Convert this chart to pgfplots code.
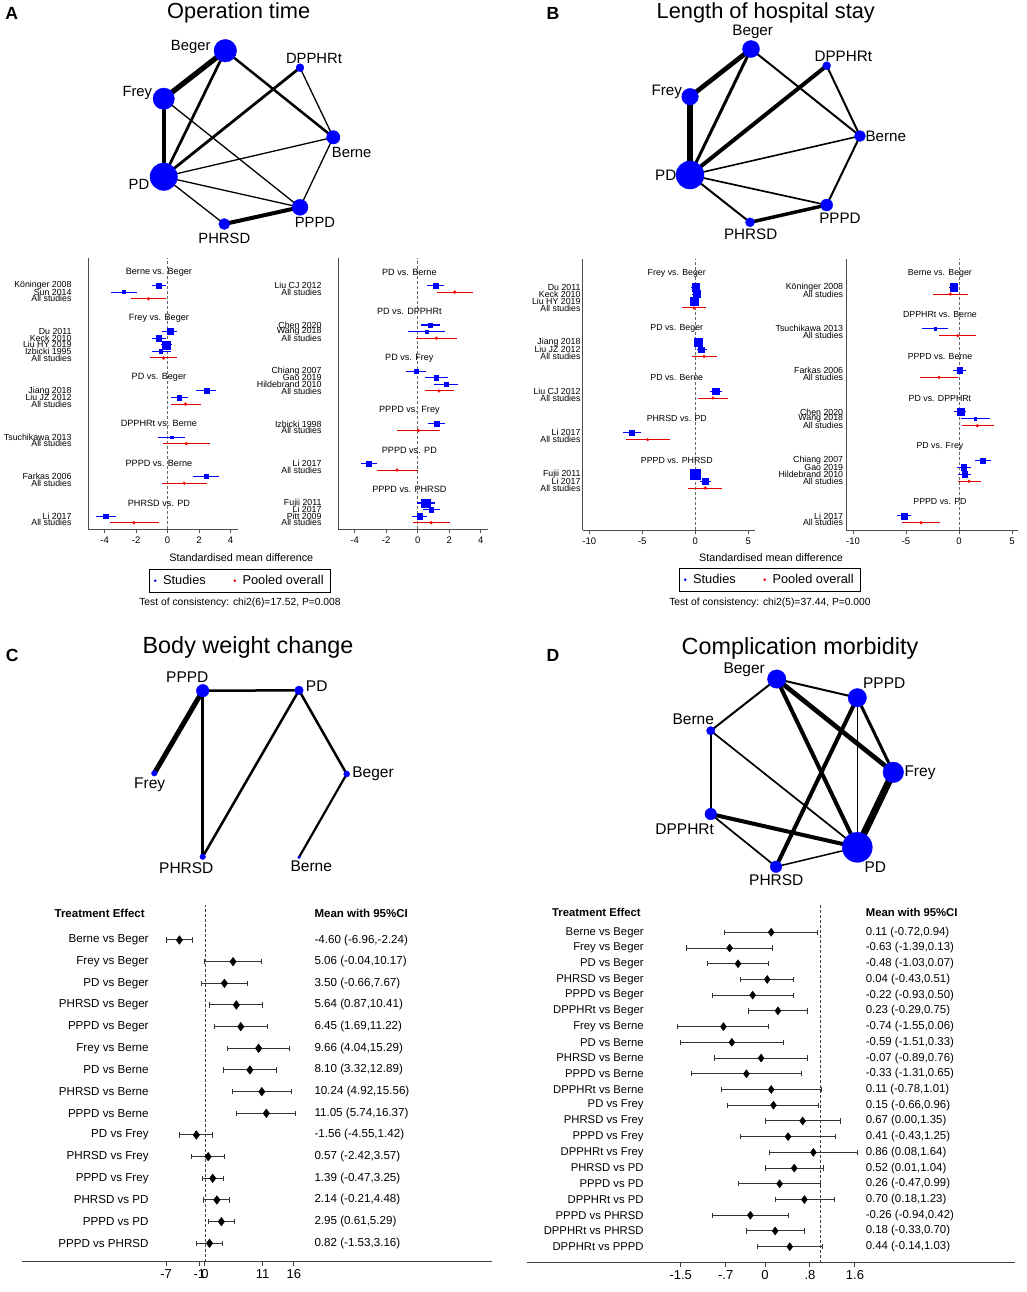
\documentclass[border=0pt]{standalone}
\usepackage{pgfplots}
\pgfplotsset{compat=1.18}
\usepackage{pgfplotstable}
\usepackage{fontspec}
\setmainfont{Liberation Sans}
\newcommand\fs[1]{\fontsize{#1}{#1}\selectfont}

\pgfplotsset{
  /pgf/number format/assume math mode=true,
  % Stata style forest plot (A, B)
  nma/.style={scale only axis, anchor=north west, clip=false, height=271pt,
    axis x line*=bottom, axis y line*=left,
    axis line style={black!70, line width=0.8pt},
    tick align=outside, major tick length=4pt,
    xtick style={black!70, line width=0.8pt}, ytick style={draw=none},
    xticklabel style={font=\fs{9.5}},
    yticklabel style={font=\fs{8.8}, anchor=east, inner sep=0pt}},
  % league forest plot (C, D)
  league/.style={scale only axis, anchor=north west, clip=false,
    axis x line*=bottom, axis y line*=left,
    axis line style={black!75, line width=1pt},
    y axis line style={draw=none},
    tick align=outside, major tick length=4.5pt,
    xtick style={black!75, line width=1pt}, ytick style={draw=none},
    xticklabel style={font=\fs{13}},
    yticklabel style={font=\fs{11.6}, anchor=east, inner sep=0pt}},
  studies/.style={scatter, only marks, mark=square*, forget plot,
    scatter/use mapped color={draw=blue, fill=blue},
    visualization depends on={\thisrow{w}\as\wsz},
    scatter/@pre marker code/.append style={/tikz/mark size=\wsz},
    error bars/x dir=both, error bars/x explicit, error bars/error mark=none,
    error bars/error bar style={blue, line width=1.1pt}},
  pooled/.style={only marks, mark=*, mark size=1.4pt, red, forget plot,
    error bars/x dir=both, error bars/x explicit, error bars/error mark=none,
    error bars/error bar style={red!90!black, line width=1pt}},
  diam/.style={only marks, mark=diamond*, mark size=4.3pt, black, forget plot,
    error bars/x dir=both, error bars/x explicit, error bars/error mark=|,
    error bars/error bar style={black!80, line width=1pt},
    error bars/error mark options={black!80, line width=1pt, mark size=2.6pt}},
  refline/.style={black!60, dash pattern=on 3pt off 2pt, line width=0.8pt, forget plot},
  netnode/.style={scatter, only marks, mark=*, forget plot,
    scatter/use mapped color={draw=blue, fill=blue},
    visualization depends on={\thisrow{r}\as\rad},
    scatter/@pre marker code/.append style={/tikz/mark size=\rad}},
  edge/.style={black, forget plot, line width=#1},
  mylegend/.style={legend columns=2,
    legend style={anchor=north, draw=black, line width=0.7pt, font=\fs{12.8},
      inner xsep=5pt, inner ysep=4pt,
      /tikz/every odd column/.append style={column sep=5pt},
      /tikz/every even column/.append style={column sep=26pt}},
    legend image code/.code={\draw[mark repeat=1,mark phase=1,##1] plot coordinates {(0pt,0pt)};}},
}

% ---------- network nodes (pixel positions, radius) ----------
\pgfplotstableread{
x y r
225.3 50.7 11.3
300 67.7 4
163.7 98.7 10.7
333.3 137.3 6.7
163.7 176.7 13.7
300 207.3 8
224.3 224 5.5
}\netA
\pgfplotstableread{
x y r
751 49 8.5
826.7 65.7 4
690 96.7 8.3
860 136 5.5
690 175 14
826.7 205 6
750 222.3 4.5
}\netB
\pgfplotstableread{
x y r
202.7 690.7 6.3
299 690.3 4.3
154.3 773.3 2.8
346.7 774 3
202.7 856.7 2.8
299 857.3 1.3
}\netC
\pgfplotstableread{
x y r
776.7 679 9.2
857.3 697.7 9.2
710.7 730.7 4.2
893.3 772.3 10.3
710.7 814 5.8
857.3 847.3 15
776 866.7 5.8
}\netD

% ---------- panel A forest ----------
\pgfplotstableread{
r x lo hi w
2 -0.57 -1.02 -0.13 2.7
3 -2.77 -3.58 -1.97 1.6
9 0.15 -0.34 0.63 3.0
10 -0.57 -1.02 -0.13 2.7
11 -0.06 -0.40 0.28 4.0
12 -0.42 -1.02 0.21 1.7
18 2.48 1.84 3.11 2.3
19 0.74 0.21 1.27 2.3
25 0.28 -0.61 1.14 1.3
31 2.43 1.59 3.26 2.0
37 -3.92 -4.55 -3.26 2.3
}\ALs
\pgfplotstableread{
r x lo hi
4 -1.21 -2.35 -0.11
13 -0.25 -1.10 0.63
20 1.14 0.21 2.12
26 1.19 -0.28 2.69
32 1.06 -0.34 2.52
38 -2.14 -3.66 -0.55
}\ALp
\pgfplotstableread{
r x lo hi w
2 1.14 0.59 1.69 2.3
8 0.78 0.19 1.40 2.2
9 0.57 -0.61 1.74 1.2
15 -0.11 -0.74 0.53 2.0
16 1.19 0.44 1.93 2.2
17 1.80 1.06 2.56 2.2
23 1.21 0.63 1.76 2.7
29 -3.13 -3.60 -2.60 2.5
35 0.51 -0.06 1.10 4.2
36 0.85 0.32 1.40 2.3
37 0.11 -0.36 0.57 2.6
}\ARs
\pgfplotstableread{
r x lo hi
3 2.35 1.23 3.49
10 1.19 -0.13 2.52
18 1.35 0.44 2.29
24 0.04 -1.29 1.42
30 -1.31 -2.60 0.00
38 0.85 -0.32 2.05
}\ARp

% ---------- panel B forest ----------
\pgfplotstableread{
r x lo hi w
2 0.00 -0.40 0.44 3.6
3 0.13 -0.30 0.55 3.6
4 -0.10 -0.50 0.30 4.3
10 0.31 -0.10 0.75 4.0
11 0.57 0.13 1.07 2.7
17 1.95 1.38 2.55 3.3
23 -6.00 -6.79 -5.16 2.1
29 0.03 -0.35 0.41 5.0
30 0.94 0.44 1.48 3.0
}\BLs
\pgfplotstableread{
r x lo hi
5 -0.13 -1.26 1.00
12 0.82 -0.31 2.04
18 1.67 0.28 3.08
24 -4.50 -6.54 -2.42
31 0.94 -0.66 2.55
}\BLp
\pgfplotstableread{
r x lo hi w
2 -0.50 -0.94 -0.06 3.6
8 -2.23 -3.46 -1.07 1.2
14 0.06 -0.53 0.66 2.7
20 0.13 -0.47 0.69 3.3
21 1.54 0.22 2.89 1.3
27 2.23 1.48 3.02 2.5
28 0.44 -0.19 1.10 2.7
29 0.53 -0.09 1.16 2.7
35 -5.13 -5.82 -4.50 3.0
}\BRs
\pgfplotstableread{
r x lo hi
3 -0.82 -2.42 0.82
9 -0.13 -1.86 1.64
15 -1.89 -3.68 -0.06
22 1.73 0.25 3.30
30 0.94 -0.13 2.08
36 -3.58 -5.35 -1.83
}\BRp

% ---------- panel C, D league tables ----------
\pgfplotstableread{
r x lo hi
0 -4.60 -6.96 -2.24
1 5.06 -0.04 10.17
2 3.50 -0.66 7.67
3 5.64 0.87 10.41
4 6.45 1.69 11.22
5 9.66 4.04 15.29
6 8.10 3.32 12.89
7 10.24 4.92 15.56
8 11.05 5.74 16.37
9 -1.56 -4.55 1.42
10 0.57 -2.42 3.57
11 1.39 -0.47 3.25
12 2.14 -0.21 4.48
13 2.95 0.61 5.29
14 0.82 -1.53 3.16
}\Cdat
\pgfplotstableread{
r x lo hi
0 0.11 -0.72 0.94
1 -0.63 -1.39 0.13
2 -0.48 -1.03 0.07
3 0.04 -0.43 0.51
4 -0.22 -0.93 0.50
5 0.23 -0.29 0.75
6 -0.74 -1.55 0.06
7 -0.59 -1.51 0.33
8 -0.07 -0.89 0.76
9 -0.33 -1.31 0.65
10 0.11 -0.78 1.01
11 0.15 -0.66 0.96
12 0.67 0.00 1.35
13 0.41 -0.43 1.25
14 0.86 0.08 1.64
15 0.52 0.01 1.04
16 0.26 -0.47 0.99
17 0.70 0.18 1.23
18 -0.26 -0.94 0.42
19 0.18 -0.33 0.70
20 0.44 -0.14 1.03
}\Ddat

\begin{document}
\begin{tikzpicture}
\useasboundingbox (0pt,0pt) rectangle (1026pt,-1292pt);

% ===== page layer: networks, titles, captions =====
\begin{axis}[at={(0pt,0pt)}, anchor=north west, scale only axis,
  width=1026pt, height=1292pt, xmin=0, xmax=1026, ymin=0, ymax=1292,
  y dir=reverse, hide axis, clip=false]
% A network
\addplot[edge=5.3pt] coordinates {(225.3,50.7) (163.7,98.7)};
\addplot[edge=4pt] coordinates {(163.7,98.7) (163.7,176.7)};
\addplot[edge=2.7pt] coordinates {(225.3,50.7) (163.7,176.7)};
\addplot[edge=2.5pt] coordinates {(225.3,50.7) (333.3,137.3)};
\addplot[edge=2.8pt] coordinates {(300,67.7) (163.7,176.7)};
\addplot[edge=1.3pt] coordinates {(300,67.7) (333.3,137.3)};
\addplot[edge=1.3pt] coordinates {(163.7,98.7) (300,207.3)};
\addplot[edge=1.3pt] coordinates {(163.7,176.7) (333.3,137.3)};
\addplot[edge=1.3pt] coordinates {(163.7,176.7) (300,207.3)};
\addplot[edge=1.3pt] coordinates {(163.7,176.7) (224.3,224)};
\addplot[edge=4pt] coordinates {(224.3,224) (300,207.3)};
\addplot[edge=1.3pt] coordinates {(333.3,137.3) (300,207.3)};
\addplot[netnode] table[x=x, y=y] \netA;
% B network
\addplot[edge=4.7pt] coordinates {(751,49) (690,96.7)};
\addplot[edge=5.5pt] coordinates {(690,96.7) (690,175)};
\addplot[edge=3pt] coordinates {(751,49) (690,175)};
\addplot[edge=2pt] coordinates {(751,49) (860,136)};
\addplot[edge=4pt] coordinates {(826.7,65.7) (690,175)};
\addplot[edge=2pt] coordinates {(826.7,65.7) (860,136)};
\addplot[edge=1.6pt] coordinates {(690,175) (860,136)};
\addplot[edge=1.7pt] coordinates {(690,175) (826.7,205)};
\addplot[edge=2pt] coordinates {(690,175) (750,222.3)};
\addplot[edge=3.5pt] coordinates {(750,222.3) (826.7,205)};
\addplot[edge=2pt] coordinates {(860,136) (826.7,205)};
\addplot[netnode] table[x=x, y=y] \netB;
% C network
\addplot[edge=2.5pt] coordinates {(202.7,690.7) (299,690.3)};
\addplot[edge=5pt] coordinates {(202.7,690.7) (154.3,773.3)};
\addplot[edge=2.5pt] coordinates {(202.7,690.7) (202.7,856.7)};
\addplot[edge=2.5pt] coordinates {(299,690.3) (202.7,856.7)};
\addplot[edge=2.5pt] coordinates {(299,690.3) (346.7,774)};
\addplot[edge=2.2pt] coordinates {(346.7,774) (299,857.3)};
\addplot[netnode] table[x=x, y=y] \netC;
% D network
\addplot[edge=2pt] coordinates {(776.7,679) (857.3,697.7)};
\addplot[edge=2pt] coordinates {(776.7,679) (710.7,730.7)};
\addplot[edge=4.7pt] coordinates {(776.7,679) (893.3,772.3)};
\addplot[edge=4pt] coordinates {(776.7,679) (857.3,847.3)};
\addplot[edge=3pt] coordinates {(857.3,697.7) (893.3,772.3)};
\addplot[edge=1.5pt] coordinates {(857.3,697.7) (857.3,847.3)};
\addplot[edge=4pt] coordinates {(857.3,697.7) (776,866.7)};
\addplot[edge=2pt] coordinates {(710.7,730.7) (710.7,814)};
\addplot[edge=1.7pt] coordinates {(710.7,730.7) (857.3,847.3)};
\addplot[edge=7pt] coordinates {(893.3,772.3) (857.3,847.3)};
\addplot[edge=4pt] coordinates {(710.7,814) (857.3,847.3)};
\addplot[edge=1.7pt] coordinates {(710.7,814) (776,866.7)};
\addplot[edge=1.5pt] coordinates {(776,866.7) (857.3,847.3)};
\addplot[netnode] table[x=x, y=y] \netD;

% network labels
\begin{scope}[every node/.style={font=\fs{14.8}}]
\node at (axis cs:190.7,46.7) {Beger};
\node at (axis cs:314,58.3) {DPPHRt};
\node at (axis cs:137.3,93.3) {Frey};
\node at (axis cs:351.7,152.7) {Berne};
\node at (axis cs:139,184) {PD};
\node at (axis cs:315,222.7) {PPPD};
\node at (axis cs:224.3,238.3) {PHRSD};
\end{scope}
\begin{scope}[every node/.style={font=\fs{15.2}}]
\node at (axis cs:752.7,32.3) {Beger};
\node at (axis cs:843.3,56) {DPPHRt};
\node at (axis cs:666.7,91.7) {Frey};
\node at (axis cs:885.8,136.7) {Berne};
\node at (axis cs:665.7,175.7) {PD};
\node at (axis cs:840,218.3) {PPPD};
\node at (axis cs:750.7,234) {PHRSD};
\end{scope}
\begin{scope}[every node/.style={font=\fs{15.5}}]
\node at (axis cs:187.3,677.3) {PPPD};
\node at (axis cs:316.7,686) {PD};
\node at (axis cs:149.7,785) {Frey};
\node at (axis cs:373,774) {Beger};
\node at (axis cs:186.3,868.3) {PHRSD};
\node at (axis cs:311.3,866.7) {Berne};
\node at (axis cs:744.2,669.3) {Beger};
\node at (axis cs:884.2,683.3) {PPPD};
\node at (axis cs:693.3,719.3) {Berne};
\node at (axis cs:920,772.7) {Frey};
\node at (axis cs:684.7,829.3) {DPPHRt};
\node at (axis cs:875.3,867.3) {PD};
\node at (axis cs:776.3,880) {PHRSD};
\end{scope}

% titles and panel letters
\node[font=\fs{21.8}] at (axis cs:238.7,12.7) {Operation time};
\node[font=\fs{21.8}] at (axis cs:765.8,12.7) {Length of hospital stay};
\node[font=\fs{23.4}] at (axis cs:248,647.3) {Body weight change};
\node[font=\fs{23.4}] at (axis cs:800,648.3) {Complication morbidity};
\node[font=\bfseries\fs{17.6}] at (axis cs:11.7,13) {A};
\node[font=\bfseries\fs{17.6}] at (axis cs:553,13) {B};
\node[font=\bfseries\fs{17.6}] at (axis cs:12.2,655.3) {C};
\node[font=\bfseries\fs{17.6}] at (axis cs:553,655.3) {D};

% captions under the forest plots
\node[font=\fs{10.8}] at (axis cs:241.3,558) {Standardised mean difference};
\node[font=\fs{10.8}] at (axis cs:771,558) {Standardised mean difference};
\node[font=\fs{10.3}] at (axis cs:240,603) {Test of consistency: chi2(6)=17.52, P=0.008};
\node[font=\fs{10.3}] at (axis cs:770,603) {Test of consistency: chi2(5)=37.44, P=0.000};
\end{axis}

% ===== A left =====
\begin{axis}[nma, at={(88pt,-258pt)}, width=150pt,
  xmin=-5.06, xmax=4.48, ymin=-38.95, ymax=2.17,
  xtick={-4,-2,0,2,4},
  ytick={-2,-3,-4,-9,-10,-11,-12,-13,-18,-19,-20,-25,-26,-31,-32,-37,-38},
  yticklabels={Köninger 2008, Sun 2014, All studies, Du 2011, Keck 2010, Liu HY 2019,
    Izbicki 1995, All studies, Jiang 2018, Liu JZ 2012, All studies, Tsuchikawa 2013,
    All studies, Farkas 2006, All studies, Li 2017, All studies},
  yticklabel style={xshift=-12.3pt},
  mylegend, legend style={at={(1.0133,-0.1476)}}]
\addlegendimage{only marks, mark=*, mark size=0.9pt, blue}
\addlegendentry{Studies}
\addlegendimage{only marks, mark=*, mark size=0.9pt, red}
\addlegendentry{Pooled overall}
\addplot[refline] coordinates {(0,-38.95) (0,2.17)};
\addplot[studies] table[x=x, y expr=-\thisrow{r},
  x error plus expr=\thisrow{hi}-\thisrow{x}, x error minus expr=\thisrow{x}-\thisrow{lo}] \ALs;
\addplot[pooled] table[x=x, y expr=-\thisrow{r},
  x error plus expr=\thisrow{hi}-\thisrow{x}, x error minus expr=\thisrow{x}-\thisrow{lo}] \ALp;
\begin{scope}[every node/.style={font=\fs{9.1}}]
\node at (axis cs:-0.55,0) {Berne vs. Beger};
\node at (axis cs:-0.55,-7) {Frey vs. Beger};
\node at (axis cs:-0.55,-16) {PD vs. Beger};
\node at (axis cs:-0.55,-23) {DPPHRt vs. Berne};
\node at (axis cs:-0.55,-29) {PPPD vs. Berne};
\node at (axis cs:-0.55,-35) {PHRSD vs. PD};
\end{scope}
\end{axis}

% ===== A right =====
\begin{axis}[nma, at={(338.3pt,-258pt)}, width=150pt,
  xmin=-5.04, xmax=4.48, ymin=-38.95, ymax=2.17,
  xtick={-4,-2,0,2,4},
  ytick={-2,-3,-8,-9,-10,-15,-16,-17,-18,-23,-24,-29,-30,-35,-36,-37,-38},
  yticklabels={Liu CJ 2012, All studies, Chen 2020, Wang 2018, All studies, Chiang 2007,
    Gao 2019, Hildebrand 2010, All studies, Izbicki 1998, All studies, Li 2017,
    All studies, Fujii 2011, Li 2017, Pitt 2009, All studies},
  yticklabel style={xshift=-12.6pt}]
\addplot[refline] coordinates {(0,-38.95) (0,2.17)};
\addplot[studies] table[x=x, y expr=-\thisrow{r},
  x error plus expr=\thisrow{hi}-\thisrow{x}, x error minus expr=\thisrow{x}-\thisrow{lo}] \ARs;
\addplot[pooled] table[x=x, y expr=-\thisrow{r},
  x error plus expr=\thisrow{hi}-\thisrow{x}, x error minus expr=\thisrow{x}-\thisrow{lo}] \ARp;
\begin{scope}[every node/.style={font=\fs{9.1}}]
\node at (axis cs:-0.53,0) {PD vs. Berne};
\node at (axis cs:-0.53,-6) {PD vs. DPPHRt};
\node at (axis cs:-0.53,-13) {PD vs. Frey};
\node at (axis cs:-0.53,-21) {PPPD vs. Frey};
\node at (axis cs:-0.53,-27) {PPPD vs. PD};
\node at (axis cs:-0.53,-33) {PPPD vs. PHRSD};
\end{scope}
\end{axis}

% ===== B left =====
\begin{axis}[nma, at={(582.7pt,-259pt)}, width=172.3pt,
  xmin=-10.62, xmax=5.63, ymin=-37.04, ymax=2.06,
  xtick={-10,-5,0,5},
  ytick={-2,-3,-4,-5,-10,-11,-12,-17,-18,-23,-24,-29,-30,-31},
  yticklabels={Du 2011, Keck 2010, Liu HY 2019, All studies, Jiang 2018, Liu JZ 2012,
    All studies, Liu CJ 2012, All studies, Li 2017, All studies, Fujii 2011, Li 2017,
    All studies},
  yticklabel style={xshift=2pt},
  mylegend, legend style={at={(1.087,-0.140)}}]
\addlegendimage{only marks, mark=*, mark size=0.9pt, blue}
\addlegendentry{Studies}
\addlegendimage{only marks, mark=*, mark size=0.9pt, red}
\addlegendentry{Pooled overall}
\addplot[refline] coordinates {(0,-37.04) (0,2.06)};
\addplot[studies] table[x=x, y expr=-\thisrow{r},
  x error plus expr=\thisrow{hi}-\thisrow{x}, x error minus expr=\thisrow{x}-\thisrow{lo}] \BLs;
\addplot[pooled] table[x=x, y expr=-\thisrow{r},
  x error plus expr=\thisrow{hi}-\thisrow{x}, x error minus expr=\thisrow{x}-\thisrow{lo}] \BLp;
\begin{scope}[every node/.style={font=\fs{8.8}}]
\node at (axis cs:-1.75,0) {Frey vs. Beger};
\node at (axis cs:-1.75,-8) {PD vs. Beger};
\node at (axis cs:-1.75,-15) {PD vs. Berne};
\node at (axis cs:-1.75,-21) {PHRSD vs. PD};
\node at (axis cs:-1.75,-27) {PPPD vs. PHRSD};
\end{scope}
\end{axis}

% ===== B right =====
\begin{axis}[nma, at={(846pt,-259pt)}, width=172.3pt,
  xmin=-10.66, xmax=5.59, ymin=-37.04, ymax=2.06,
  xtick={-10,-5,0,5},
  ytick={-2,-3,-8,-9,-14,-15,-20,-21,-22,-27,-28,-29,-30,-35,-36},
  yticklabels={Köninger 2008, All studies, Tsuchikawa 2013, All studies, Farkas 2006,
    All studies, Chen 2020, Wang 2018, All studies, Chiang 2007, Gao 2019,
    Hildebrand 2010, All studies, Li 2017, All studies},
  yticklabel style={xshift=1.3pt}]
\addplot[refline] coordinates {(0,-37.04) (0,2.06)};
\addplot[studies] table[x=x, y expr=-\thisrow{r},
  x error plus expr=\thisrow{hi}-\thisrow{x}, x error minus expr=\thisrow{x}-\thisrow{lo}] \BRs;
\addplot[pooled] table[x=x, y expr=-\thisrow{r},
  x error plus expr=\thisrow{hi}-\thisrow{x}, x error minus expr=\thisrow{x}-\thisrow{lo}] \BRp;
\begin{scope}[every node/.style={font=\fs{8.8}}]
\node at (axis cs:-1.8,0) {Berne vs. Beger};
\node at (axis cs:-1.8,-6) {DPPHRt vs. Berne};
\node at (axis cs:-1.8,-12) {PPPD vs. Berne};
\node at (axis cs:-1.8,-18) {PD vs. DPPHRt};
\node at (axis cs:-1.8,-25) {PD vs. Frey};
\node at (axis cs:-1.8,-33) {PPPD vs. PD};
\end{scope}
\end{axis}

% ===== C =====
\begin{axis}[league, at={(22pt,-905pt)}, width=469.7pt, height=356.7pt,
  xmin=-32.97, xmax=51.66, ymin=-14.85, ymax=1.615,
  xtick={-7,-1,0,10.4,16}, xticklabels={-7,-1,0,11,16},
  ytick={0,-1,-2,-3,-4,-5,-6,-7,-8,-9,-10,-11,-12,-13,-14},
  yticklabels={Berne vs Beger, Frey vs Beger, PD vs Beger, PHRSD vs Beger, PPPD vs Beger,
    Frey vs Berne, PD vs Berne, PHRSD vs Berne, PPPD vs Berne, PD vs Frey, PHRSD vs Frey,
    PPPD vs Frey, PHRSD vs PD, PPPD vs PD, PPPD vs PHRSD},
  yticklabel style={xshift=131.3pt}]
\addplot[refline, black!75, line width=0.9pt] coordinates {(0,-14.85) (0,1.615)};
\addplot[diam] table[x=x, y expr=-\thisrow{r},
  x error plus expr=\thisrow{hi}-\thisrow{x}, x error minus expr=\thisrow{x}-\thisrow{lo}] \Cdat;
\node[anchor=east, font=\bfseries\fs{11.5}] at (axis cs:-10.22,1.246) {Treatment Effect};
\node[anchor=west, font=\bfseries\fs{11.5}] at (axis cs:19.1,1.246) {Mean with 95\%CI};
\begin{scope}[every node/.style={anchor=west, font=\fs{11.6}}]
\node at (axis cs:19.1,0) {-4.60 (-6.96,-2.24)};
\node at (axis cs:19.1,-1) {5.06 (-0.04,10.17)};
\node at (axis cs:19.1,-2) {3.50 (-0.66,7.67)};
\node at (axis cs:19.1,-3) {5.64 (0.87,10.41)};
\node at (axis cs:19.1,-4) {6.45 (1.69,11.22)};
\node at (axis cs:19.1,-5) {9.66 (4.04,15.29)};
\node at (axis cs:19.1,-6) {8.10 (3.32,12.89)};
\node at (axis cs:19.1,-7) {10.24 (4.92,15.56)};
\node at (axis cs:19.1,-8) {11.05 (5.74,16.37)};
\node at (axis cs:19.1,-9) {-1.56 (-4.55,1.42)};
\node at (axis cs:19.1,-10) {0.57 (-2.42,3.57)};
\node at (axis cs:19.1,-11) {1.39 (-0.47,3.25)};
\node at (axis cs:19.1,-12) {2.14 (-0.21,4.48)};
\node at (axis cs:19.1,-13) {2.95 (0.61,5.29)};
\node at (axis cs:19.1,-14) {0.82 (-1.53,3.16)};
\end{scope}
\end{axis}

% ===== D =====
\begin{axis}[league, at={(526.7pt,-903pt)}, width=488.3pt, height=359.7pt,
  xmin=-4.24, xmax=4.448, ymin=-21.02, ymax=1.864,
  xtick={-1.5,-0.7,0,0.8,1.6}, xticklabels={-1.5,-.7,0,.8,1.6},
  ytick={0,-1,-2,-3,-4,-5,-6,-7,-8,-9,-10,-11,-12,-13,-14,-15,-16,-17,-18,-19,-20},
  yticklabels={Berne vs Beger, Frey vs Beger, PD vs Beger, PHRSD vs Beger, PPPD vs Beger,
    DPPHRt vs Beger, Frey vs Berne, PD vs Berne, PHRSD vs Berne, PPPD vs Berne,
    DPPHRt vs Berne, PD vs Frey, PHRSD vs Frey, PPPD vs Frey, DPPHRt vs Frey, PHRSD vs PD,
    PPPD vs PD, DPPHRt vs PD, PPPD vs PHRSD, DPPHRt vs PHRSD, DPPHRt vs PPPD},
  yticklabel style={font=\fs{11.3}, xshift=121.6pt}]
\addplot[refline, black!75, line width=0.9pt] coordinates {(0.985,-21.02) (0.985,1.864)};
\addplot[diam, mark size=4pt] table[x=x, y expr=-\thisrow{r},
  x error plus expr=\thisrow{hi}-\thisrow{x}, x error minus expr=\thisrow{x}-\thisrow{lo}] \Ddat;
\node[anchor=east, font=\bfseries\fs{11.3}] at (axis cs:-2.148,1.247) {Treatment Effect};
\node[anchor=west, font=\bfseries\fs{11.3}] at (axis cs:1.731,1.247) {Mean with 95\%CI};
\begin{scope}[every node/.style={anchor=west, font=\fs{11.4}}]
\node at (axis cs:1.731,0) {0.11 (-0.72,0.94)};
\node at (axis cs:1.731,-1) {-0.63 (-1.39,0.13)};
\node at (axis cs:1.731,-2) {-0.48 (-1.03,0.07)};
\node at (axis cs:1.731,-3) {0.04 (-0.43,0.51)};
\node at (axis cs:1.731,-4) {-0.22 (-0.93,0.50)};
\node at (axis cs:1.731,-5) {0.23 (-0.29,0.75)};
\node at (axis cs:1.731,-6) {-0.74 (-1.55,0.06)};
\node at (axis cs:1.731,-7) {-0.59 (-1.51,0.33)};
\node at (axis cs:1.731,-8) {-0.07 (-0.89,0.76)};
\node at (axis cs:1.731,-9) {-0.33 (-1.31,0.65)};
\node at (axis cs:1.731,-10) {0.11 (-0.78,1.01)};
\node at (axis cs:1.731,-11) {0.15 (-0.66,0.96)};
\node at (axis cs:1.731,-12) {0.67 (0.00,1.35)};
\node at (axis cs:1.731,-13) {0.41 (-0.43,1.25)};
\node at (axis cs:1.731,-14) {0.86 (0.08,1.64)};
\node at (axis cs:1.731,-15) {0.52 (0.01,1.04)};
\node at (axis cs:1.731,-16) {0.26 (-0.47,0.99)};
\node at (axis cs:1.731,-17) {0.70 (0.18,1.23)};
\node at (axis cs:1.731,-18) {-0.26 (-0.94,0.42)};
\node at (axis cs:1.731,-19) {0.18 (-0.33,0.70)};
\node at (axis cs:1.731,-20) {0.44 (-0.14,1.03)};
\end{scope}
\end{axis}
\end{tikzpicture}
\end{document}
